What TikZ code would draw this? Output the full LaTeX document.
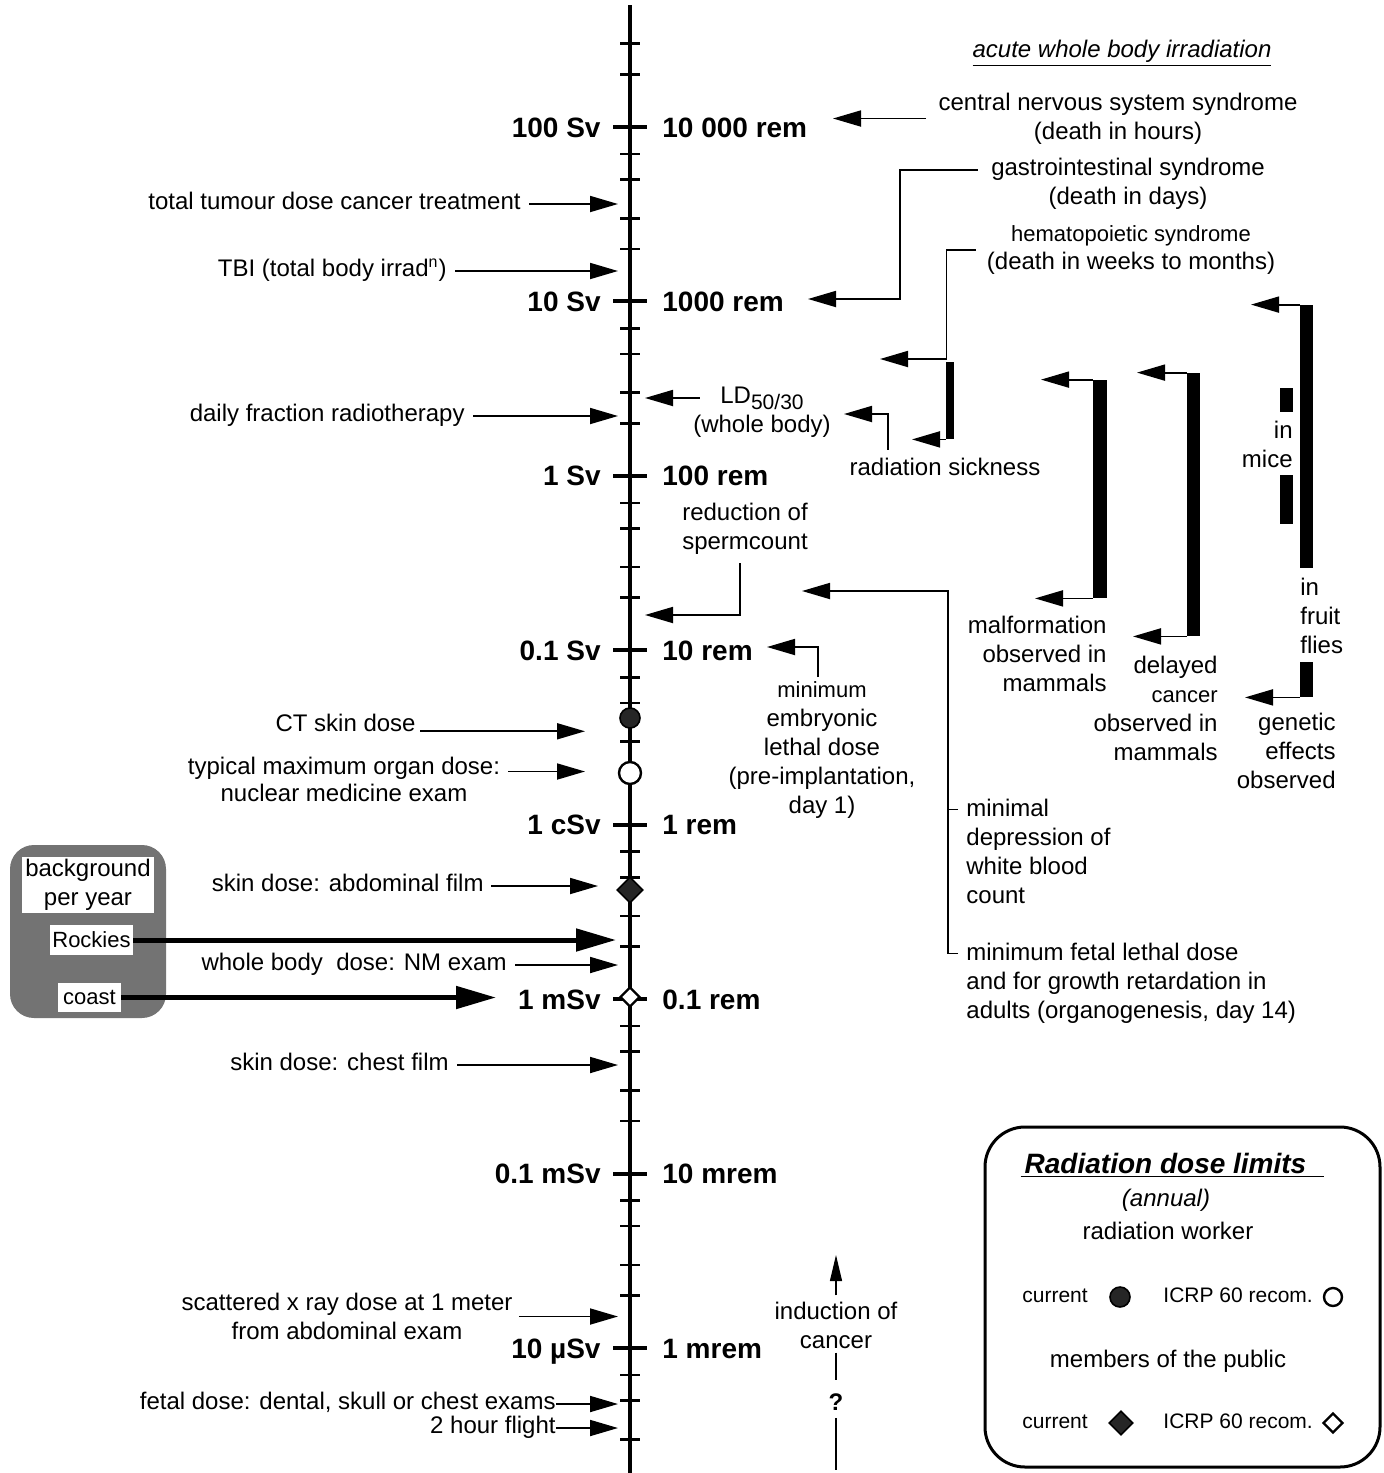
\documentclass[tikz,border=0pt]{standalone}
\usepackage{fontspec}
\setmainfont{Liberation Sans}
\usetikzlibrary{arrows.meta, positioning, shapes.geometric, fit}
\tikzset{
  txt/.style      = {font=\fontsize{12}{14.5}\selectfont, inner sep=0pt, align=center},
  smalltxt/.style = {font=\fontsize{10.5}{13}\selectfont, inner sep=0pt},
  major/.style    = {font=\fontsize{14}{16}\selectfont\bfseries, inner sep=0pt},
  axisline/.style = {line width=2pt},
  majtick/.style  = {line width=2pt},
  mintick/.style  = {line width=1.3pt},
  arr/.style      = {-{Triangle[length=14pt,width=8pt]}, line width=0.9pt},
  bigarr/.style   = {-{Triangle[length=20pt,width=11pt]}, line width=2.5pt},
  uparr/.style    = {-{Triangle[length=13pt,width=6pt]}, line width=0.6pt},
  link/.style     = {line width=0.7pt},
  bar/.style      = {fill=black, inner sep=0pt},
  bgfill/.style   = {fill=black!55, rounded corners=12pt, inner sep=0pt},
  wbox/.style     = {fill=white, inner sep=0pt, align=center, font=\fontsize{12}{14.5}\selectfont},
  filldot/.style  = {circle, draw, fill=black!85, inner sep=0pt, minimum size=10pt, line width=0.8pt},
  opendot/.style  = {circle, draw, fill=white, inner sep=0pt, minimum size=10pt, line width=1.2pt},
  filldia/.style  = {diamond, draw, fill=black!85, inner sep=0pt, minimum size=12pt, line width=0.8pt},
  opendia/.style  = {diamond, draw, fill=white, inner sep=0pt, minimum size=11pt, line width=1.2pt},
}

\begin{document}
\begin{tikzpicture}[x=0.5pt, y=-0.5pt]
  \useasboundingbox (0,0) rectangle (1384,1473);

  % dose scale
  \coordinate (axtop) at (630,5);
  \coordinate (axbot) at (630,1473);
  \draw[axisline] (axtop) -- (axbot);
  \foreach \dec in {0,...,8}
    \foreach \lg in {0.30103,0.47712,0.69897,0.84510} {
      \pgfmathsetmacro\yy{127+174.43*\dec-174.43*\lg}
      \ifdim\yy pt>10pt \ifdim\yy pt<1460pt
        \draw[mintick] (620,\yy) -- (640,\yy);
      \fi\fi
    }
  \foreach \i/\lsv/\lrem in {0/100 Sv/10 000 rem, 1/10 Sv/1000 rem, 2/1 Sv/100 rem,
      3/0.1 Sv/10 rem, 4/1 cSv/1 rem, 5/1 mSv/0.1 rem, 6/0.1 mSv/10 mrem, 7/10 µSv/1 mrem} {
    \pgfmathsetmacro\yy{127+174.43*\i}
    \draw[majtick] (613,\yy) -- (647,\yy);
    \node[major, anchor=base east] (sv\i) at (601,\yy+10) {\lsv};
    \node[major, anchor=base west] (rem\i) at (662,\yy+10) {\lrem};
  }
  \node[filldot] (ctmark) at (630,718) {};
  \node[opendot, minimum size=11pt] (nmorgan) at (630,773) {};
  \node[filldia, minimum size=13pt] (abdmark) at (630,890) {};
  \node[opendia, minimum size=10pt] (nmdose) at (630,997) {};

  % left side
  \coordinate (tipL) at (618,0);
  \coordinate (tipM) at (585,0);
  \coordinate (tipF) at (598,0);
  \coordinate (tipR) at (645,0);
  \node[txt, anchor=mid east] (tumour) at (521,204) {total tumour dose cancer treatment};
  \node[txt, anchor=mid east] (tbi) at (447,271) {TBI (total body irrad\textsuperscript{n})};
  \node[txt, anchor=mid east] (daily) at (465,416) {daily fraction radiotherapy};
  \node[txt, anchor=mid east] (ctskin) at (416,726) {CT skin dose};
  \node[txt, font=\fontsize{12}{13.5}\selectfont] (organ) at (344,779.5) {typical maximum organ dose:\\nuclear medicine exam};
  \node[txt, anchor=mid east] (abdfilm) at (484,886) {skin dose: abdominal film};
  \node[txt, anchor=mid east] (nmexam) at (507,965) {whole body\ \ dose: NM exam};
  \node[txt, anchor=mid east] (chest) at (449,1065) {skin dose: chest film};
  \node[txt] (scatter) at (347,1316.5) {scattered x ray dose at 1 meter\\from abdominal exam};
  \node[txt, anchor=mid east] (fetal) at (556,1404) {fetal dose: dental, skull or chest exams};
  \node[txt, anchor=mid east] (flight) at (556,1428) {2 hour flight};
  \foreach \n in {tumour, tbi, daily, nmexam, chest}
    \draw[arr, shorten <=4pt] (\n.mid east) -- (\n.mid east -| tipL);
  \draw[arr, shorten <=3pt] (scatter.east) -- (scatter.east -| tipL);
  \draw[arr] (fetal.mid east) -- (fetal.mid east -| tipL);
  \draw[arr] (flight.mid east) -- (flight.mid east -| tipL);
  \draw[arr, shorten <=2pt] (ctskin.base east) -- (ctskin.base east -| tipM);
  \draw[arr, shorten <=4pt] ([yshift=4pt]organ.east) -- ([yshift=4pt]organ.east -| tipM);
  \draw[arr, shorten <=3.5pt] (abdfilm.mid east) -- (abdfilm.mid east -| tipF);

  \node[bgfill, fit={(10,845) (166,1018)}] (bgbox) {};
  \node[wbox, minimum width=66pt, minimum height=28pt] (bgtitle) at (88,885) {background\\per year};
  \node[wbox, font=\fontsize{11}{13}\selectfont, minimum width=41.5pt, minimum height=15pt] (rockies) at (91.5,940) {Rockies};
  \node[wbox, font=\fontsize{11}{13}\selectfont, minimum width=31.5pt, minimum height=14.5pt] (coast) at (89.5,997.5) {coast};
  \coordinate (rocktip) at (616,940);
  \coordinate (coasttip) at (496,997);
  \draw[bigarr] (rockies.east) -- (rockies.east -| rocktip);
  \draw[bigarr] (coast.east) -- (coast.east -| coasttip);

  % acute whole body irradiation
  \node[txt, font=\fontsize{12}{14.5}\selectfont\itshape] (acute) at (1122,53) {\underline{acute whole body irradiation}};
  \node[txt] (cns) at (1118,118.5) {central nervous system syndrome\\(death in hours)};
  \coordinate (cnstip) at (833,0);
  \draw[arr, shorten <=6pt] (cns.west) -- (cns.west -| cnstip);
  \node[txt] (gi) at (1128,184) {gastrointestinal syndrome\\(death in days)};
  \coordinate (gitip) at (808,299);
  \draw[arr, shorten <=6.5pt] ([yshift=7pt]gi.west) -- ++(-91,0) |- (gitip);
  \node[txt, font=\fontsize{12}{14}\selectfont] (hema) at (1131,250) {{\fontsize{11}{14}\selectfont hematopoietic syndrome}\\(death in weeks to months)};
  \coordinate (hematip) at (880,359);
  \draw[arr, shorten <=5.5pt] (hema.west) -- ++(-40,0) |- (hematip);
  \node[bar, fit={(946,362) (954,439)}] (sickbar) {};
  \coordinate (sicktip) at (912,0);
  \draw[arr] (sickbar.south west) -- (sickbar.south west -| sicktip);
  \node[txt] (sick) at (945,467) {radiation sickness};
  \coordinate (ldtip) at (844,414);
  \draw[arr, shorten <=4pt] ([xshift=19.5pt]sick.north west) |- (ldtip);

  \node[txt] (ld) at (762,398) {LD\raisebox{-0.45ex}{\fontsize{10.5}{12}\selectfont 50/30}};
  \node[txt] (ldb) at (762,426) {(whole body)};
  \draw[arr, shorten <=10pt] (ld.west) -- (ld.west -| tipR);
  \node[txt] (sperm) at (745,529) {reduction of\\spermcount};
  \coordinate (spermtip) at (645,615);
  \draw[arr, shorten <=4pt] ([xshift=-2.5pt]sperm.south) |- (spermtip);
  \node[txt] (embryo) at (822,750) {{\fontsize{11}{14}\selectfont minimum}\\embryonic\\lethal dose\\(pre-implantation,\\day 1)};
  \coordinate (embtip) at (767,647);
  \draw[arr, shorten <=2pt] ([xshift=-2pt]embryo.north) |- (embtip);

  \node[txt, align=left, anchor=west] (wbc) at (966,851) {minimal\\depression of\\white blood\\count};
  \node[txt, align=left, anchor=west] (fetaldose) at (966,983) {minimum fetal lethal dose\\and for growth retardation in\\adults (organogenesis, day 14)};
  \coordinate (wbctip) at (802,591);
  \draw[arr, shorten <=4pt] ([yshift=-5.5pt]fetaldose.north west) -- ++(-18,0) |- (wbctip);
  \draw[link, shorten <=4pt] ([yshift=-5.5pt]wbc.north west) -- ++(-18,0);

  % observed effects
  \node[bar, fit={(1093,380) (1107,598)}] (malbar) {};
  \node[bar, fit={(1187,373) (1200,636)}] (canbar) {};
  \node[bar, fit={(1300,305) (1313,568)}] (genbar) {};
  \node[bar, fit={(1300,662) (1313,697)}] (genbarb) {};
  \node[bar, fit={(1280,388) (1293,412)}] (micebar) {};
  \node[bar, fit={(1280,475) (1293,524)}] (micebarb) {};
  \coordinate (maltop) at (1041,0);
  \coordinate (malbot) at (1035,0);
  \coordinate (cantop) at (1137,0);
  \coordinate (canbot) at (1133,0);
  \coordinate (gentop) at (1251,0);
  \coordinate (genbot) at (1245,0);
  \draw[arr] (malbar.north west) -- (malbar.north west -| maltop);
  \draw[arr] (malbar.south west) -- (malbar.south west -| malbot);
  \draw[arr] (canbar.north west) -- (canbar.north west -| cantop);
  \draw[arr] (canbar.south west) -- (canbar.south west -| canbot);
  \draw[arr] (genbar.north west) -- (genbar.north west -| gentop);
  \draw[arr] (genbarb.south west) -- (genbarb.south west -| genbot);
  \node[txt, align=right, anchor=east] (malf) at (1107,654) {malformation\\observed in\\mammals};
  \node[txt, align=right, anchor=east] (canc) at (1218,708) {delayed\\{\fontsize{11}{14}\selectfont cancer}\\observed in\\mammals};
  \node[txt, align=left, anchor=west] (flies) at (1300,616) {in\\fruit\\flies};
  \node[txt, align=right, anchor=east] (gen) at (1336,751) {genetic\\effects\\observed};
  \node[txt, align=right, anchor=east] (mice) at (1293,444) {in\\mice};

  \node[txt] (induct) at (836,1325) {induction of\\cancer};
  \node[txt, font=\fontsize{12}{14}\selectfont\bfseries] (qmark) at (836,1402) {?};
  \coordinate (indtip) at (836,1255);
  \coordinate (indend) at (836,1470);
  \draw[uparr, shorten <=3pt] (induct.north) -- (indtip);
  \draw[link, shorten <=2pt, shorten >=6.5pt] (induct.south) -- (qmark.north);
  \draw[link, shorten <=3.5pt] (qmark.south) -- (indend);

  % legend
  \node[draw, line width=1.5pt, rounded corners=20pt, inner sep=0pt, fit={(985,1127) (1380,1467)}] (legend) {};
  \node[txt, font=\fontsize{14}{16}\selectfont\bfseries\itshape, anchor=base] (ltitle) at (1172.5,1173) {\underline{\hspace*{2pt}Radiation dose limits\hspace*{9pt}}};
  \node[txt, font=\fontsize{12}{14.5}\selectfont\itshape] (annual) at (1166,1200) {(annual)};
  \node[txt] (worker) at (1168,1231) {radiation worker};
  \node[smalltxt, anchor=mid west] (cura) at (1022,1297) {current};
  \node[filldot] (curam) at (1120,1297) {};
  \node[smalltxt, anchor=mid west] (icrpa) at (1163,1297) {ICRP 60 recom.};
  \node[opendot, minimum size=9pt] (icrpam) at (1333,1297) {};
  \node[txt] (public) at (1168,1361) {members of the public};
  \node[smalltxt, anchor=mid west] (curb) at (1022,1423) {current};
  \node[filldia] (curbm) at (1121,1423) {};
  \node[smalltxt, anchor=mid west] (icrpb) at (1163,1423) {ICRP 60 recom.};
  \node[opendia, minimum size=10pt] (icrpbm) at (1333,1423) {};
\end{tikzpicture}
\end{document}
